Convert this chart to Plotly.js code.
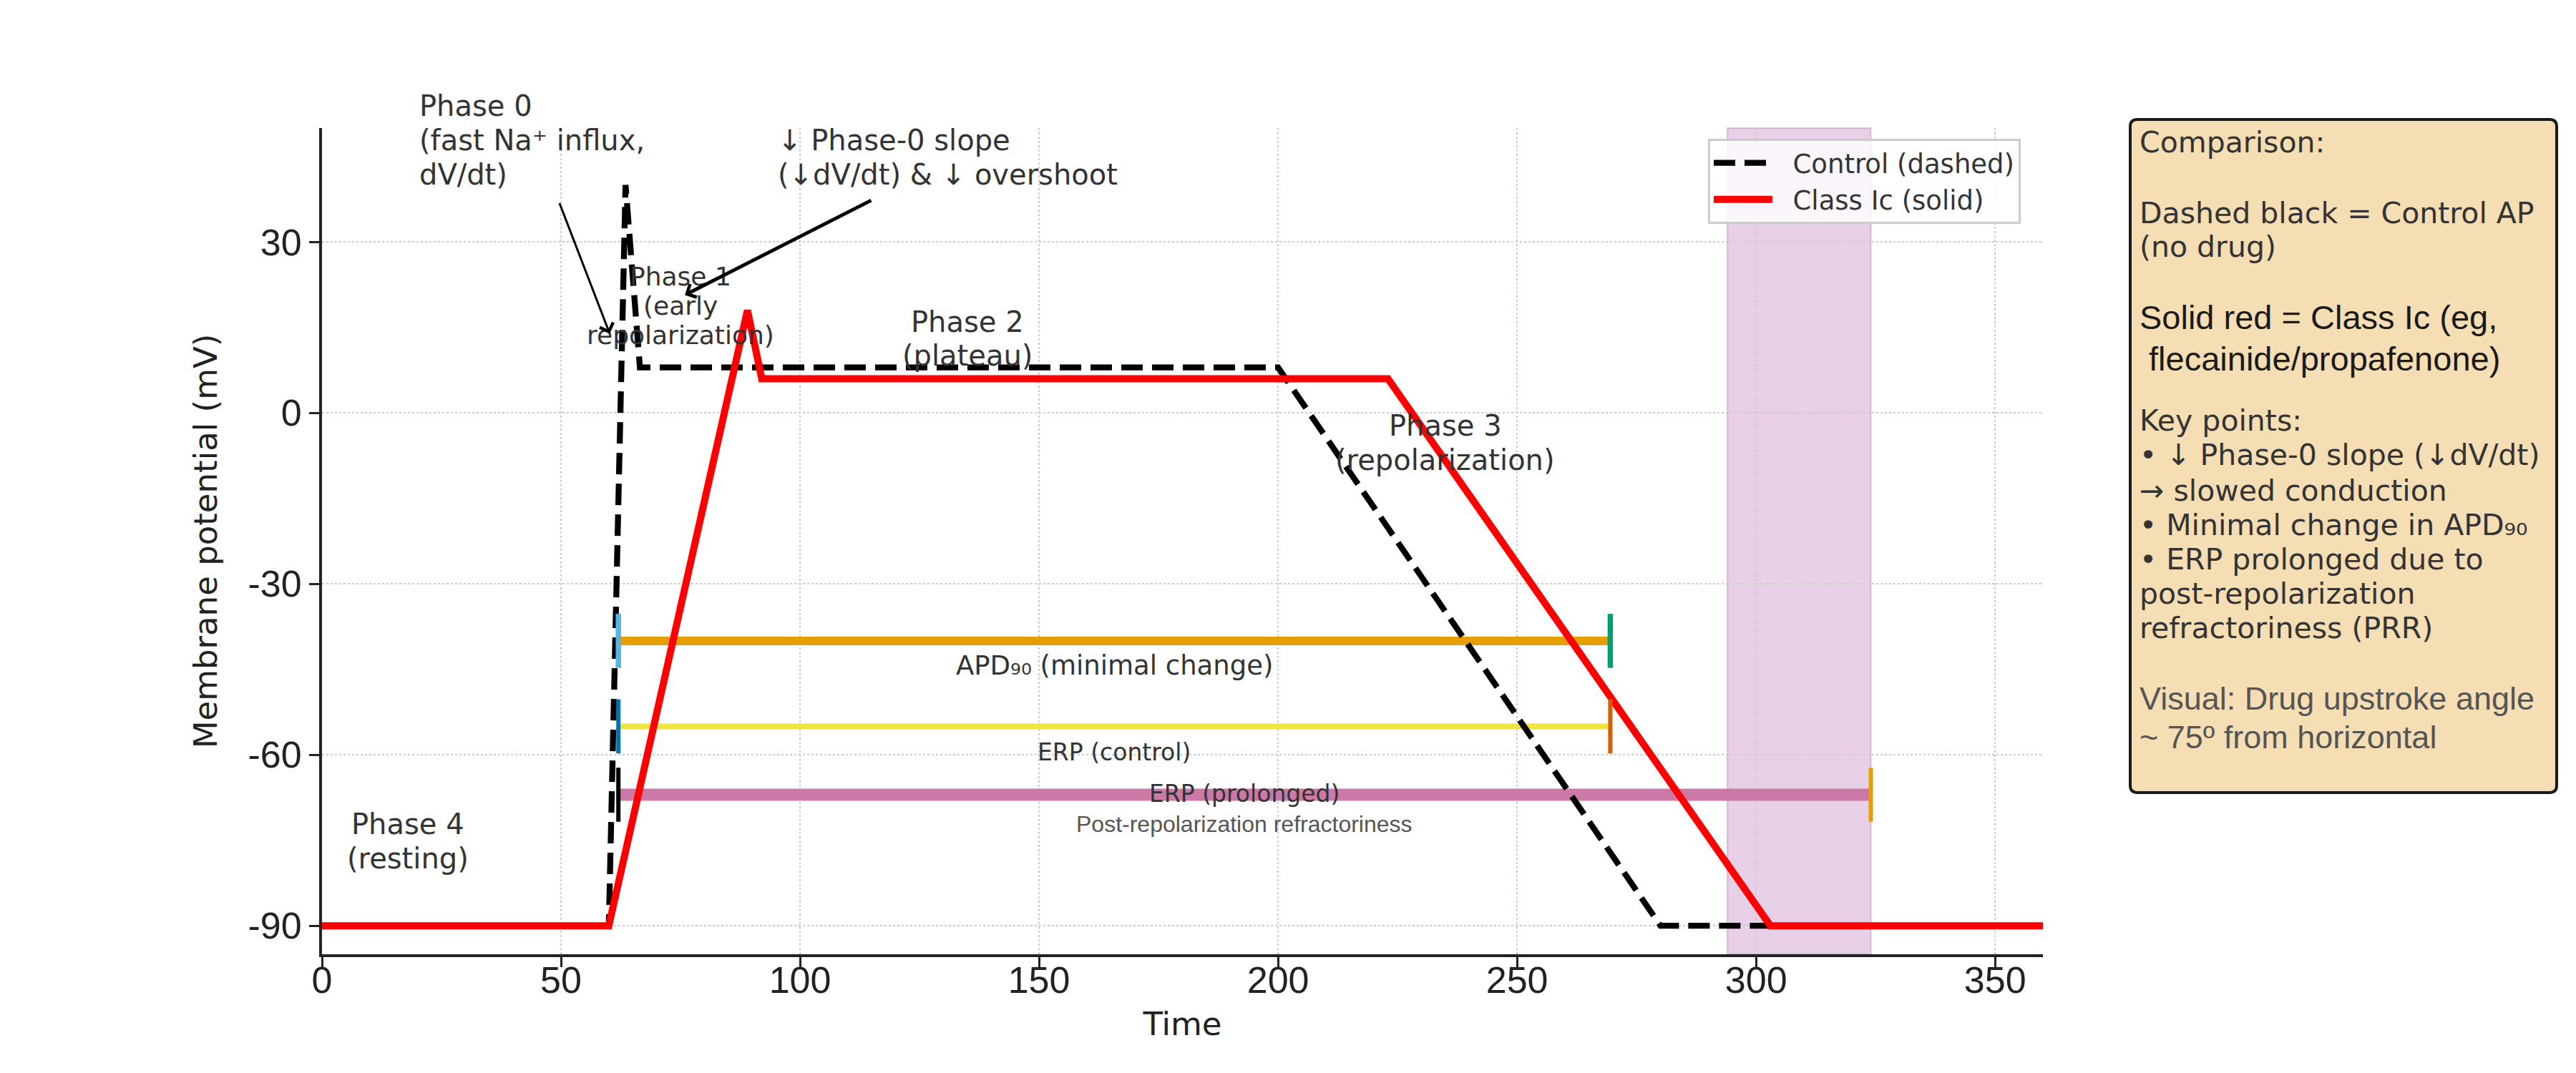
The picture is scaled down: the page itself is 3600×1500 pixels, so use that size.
<!DOCTYPE html>
<html>
<head>
<meta charset="utf-8">
<script src="https://cdn.plot.ly/plotly-3.0.1.min.js"></script>
<style>
  html, body { margin: 0; padding: 0; background: #ffffff; }
  #chart { width: 3600px; height: 1500px; }
</style>
</head>
<body>
<div id="chart"></div>
<script>
// Ventricular action potential: control vs Class Ic drug
const timeControl = [0, 60, 63.5, 66.5, 200, 280, 360];
const vmControl   = [-90, -90, 40, 8, 8, -90, -90];
const timeClassIc = [0, 60, 89, 92, 223, 303, 360];
const vmClassIc   = [-90, -90, 18, 6, 6, -90, -90];

// Interval bars: start / end time (ms) and the potential level they sit at (mV)
const intervalLabels = ['APD₉₀ (minimal change)', 'ERP (control)', 'ERP (prolonged)'];
const intervalStart  = [62, 62, 62];
const intervalEnd    = [269.5, 269.5, 324];
const intervalLevel  = [-40, -55, -67];

// Post-repolarization refractoriness window (ms)
const prrWindow = [294, 324];

// Axis ticks (plain hyphen minus in the labels)
const xTicks = [0, 50, 100, 150, 200, 250, 300, 350];
const yTicks = [-90, -60, -30, 0, 30];
const xTickText = xTicks.map(String);
const yTickText = yTicks.map(String);

// ---- styling ----
const DEJAVU = 'DejaVu Sans';
const ARIAL = 'Liberation Sans, Arial, sans-serif';
const TEXT = '#333333';
const INK = '#222222';
const LEGEND_PAD = '\u00a0\u00a0';   // extra gap between legend sample and label

const barColors = ['#E69F00', '#F0E442', '#CC79A7'];
const barWidths = [12, 8, 17];
const capLeftColors = ['#56B4E9', '#0072B2', '#000000'];
const capRightColors = ['#009E73', '#D55E00', '#E69F00'];

// plot area in page pixels
const M = { l: 450, r: 745, t: 179, b: 166 };
const W = 3600, H = 1500;
const PW = W - M.l - M.r, PH = H - M.t - M.b;
const px2x = p => (p - M.l) / PW;
const py2y = p => (H - M.b - p) / PH;

const traces = [];

// interval bars
intervalLabels.forEach((name, i) => {
  traces.push({
    type: 'scatter', mode: 'lines', name: name, showlegend: false, hoverinfo: 'skip',
    x: [intervalStart[i], intervalEnd[i]],
    y: [intervalLevel[i], intervalLevel[i]],
    line: { color: barColors[i], width: barWidths[i] }
  });
});

// action potentials
traces.push({
  type: 'scatter', mode: 'lines', name: LEGEND_PAD + 'Control (dashed)',
  x: timeControl, y: vmControl,
  line: { color: '#000000', width: 8.3, dash: '30px,13px' }
});
traces.push({
  type: 'scatter', mode: 'lines', name: LEGEND_PAD + 'Class Ic (solid)',
  x: timeClassIc, y: vmClassIc,
  line: { color: '#ff0000', width: 10 }
});

// end caps of the interval bars
intervalLabels.forEach((name, i) => {
  [[intervalStart[i], capLeftColors[i]], [intervalEnd[i], capRightColors[i]]].forEach(([t, c]) => {
    traces.push({
      type: 'scatter', mode: 'markers', showlegend: false, hoverinfo: 'skip',
      x: [t], y: [intervalLevel[i]],
      marker: { symbol: 'line-ns', size: 54, color: c, line: { color: c, width: i === 0 ? 7.5 : 6 } }
    });
  });
});

// ---- annotations ----
const annotations = [];

function textBlock(lines, x, y, anchor, size, gap, family, color) {
  const n = lines.length;
  lines.forEach((s, i) => {
    annotations.push({
      xref: 'x', yref: 'y', x: x, y: y, text: s, showarrow: false,
      xanchor: anchor, yanchor: 'middle', align: anchor,
      yshift: ((n - 1) / 2 - i) * gap,
      font: { family: family || DEJAVU, size: size, color: color || TEXT }
    });
  });
}

textBlock(['Phase 0', '(fast Na⁺ influx,', 'dV/dt)'], 20, 47.9, 'left', 40, 48);
textBlock(['↓ Phase-0 slope', '(↓dV/dt) & ↓ overshoot'], 95, 44.9, 'left', 40, 48);
textBlock(['Phase 1', '(early', 'repolarization)'], 75, 18.8, 'center', 36, 41);
textBlock(['Phase 2', '(plateau)'], 135, 13, 'center', 40, 47);
textBlock(['Phase 3', '(repolarization)'], 235, -5.2, 'center', 40, 48);
textBlock(['Phase 4', '(resting)'], 18, -75.2, 'center', 40, 48);

// interval labels, centred on their bars
const labelOffsets = [-4.3, -4.5, 0.2];
const labelSizes = [37, 33, 33];
intervalLabels.forEach((name, i) => {
  textBlock([name], (intervalStart[i] + intervalEnd[i]) / 2, intervalLevel[i] + labelOffsets[i],
            'center', labelSizes[i], 0);
});
textBlock(['Post-repolarization refractoriness'], (intervalStart[2] + intervalEnd[2]) / 2,
          intervalLevel[2] - 5.1, 'center', 32, 0, ARIAL, '#555555');

// pointer arrows
const arrows = [
  { tail: [49.6, 37.0], head: [60.2, 13.9], width: 3, size: 1.3 },
  { tail: [115.1, 37.4], head: [75.9, 20.7], width: 5, size: 0.8 }
];
arrows.forEach(a => {
  annotations.push({
    xref: 'x', yref: 'y', axref: 'x', ayref: 'y',
    x: a.head[0], y: a.head[1], ax: a.tail[0], ay: a.tail[1],
    text: '', showarrow: true, arrowhead: 4, arrowwidth: a.width, arrowsize: a.size,
    arrowcolor: '#000000', standoff: 0, startstandoff: 0
  });
});

// ---- side note box (page-pixel layout) ----
const box = { x0: 2977, y0: 167, x1: 3573, y1: 1108, r: 10 };
function roundRectPath(b) {
  const P = (x, y) => px2x(x).toFixed(5) + ',' + py2y(y).toFixed(5);
  const { x0, y0, x1, y1, r } = b;
  return 'M' + P(x0 + r, y0) + ' L' + P(x1 - r, y0) + ' Q' + P(x1, y0) + ' ' + P(x1, y0 + r) +
         ' L' + P(x1, y1 - r) + ' Q' + P(x1, y1) + ' ' + P(x1 - r, y1) +
         ' L' + P(x0 + r, y1) + ' Q' + P(x0, y1) + ' ' + P(x0, y1 - r) +
         ' L' + P(x0, y0 + r) + ' Q' + P(x0, y0) + ' ' + P(x0 + r, y0) + ' Z';
}

const noteLines = [
  { t: 'Comparison:', base: 212.7, f: DEJAVU, s: 41, c: TEXT },
  { t: 'Dashed black = Control AP', base: 311.7, f: DEJAVU, s: 41, c: TEXT },
  { t: '(no drug)', base: 359.5, f: DEJAVU, s: 41, c: TEXT },
  { t: 'Solid red = Class Ic (eg,', base: 460, f: ARIAL, s: 47, c: '#1a1a1a' },
  { t: '\u00a0flecainide/propafenone)', base: 518, f: ARIAL, s: 47, c: '#1a1a1a' },
  { t: 'Key points:', base: 601.7, f: DEJAVU, s: 41, c: TEXT },
  { t: '• ↓ Phase-0 slope (↓dV/dt)', base: 650, f: DEJAVU, s: 41, c: TEXT },
  { t: '→ slowed conduction', base: 700, f: DEJAVU, s: 41, c: TEXT },
  { t: '• Minimal change in APD₉₀', base: 748, f: DEJAVU, s: 41, c: TEXT },
  { t: '• ERP prolonged due to', base: 796, f: DEJAVU, s: 41, c: TEXT },
  { t: 'post-repolarization', base: 844, f: DEJAVU, s: 41, c: TEXT },
  { t: 'refractoriness (PRR)', base: 892, f: DEJAVU, s: 41, c: TEXT },
  { t: 'Visual: Drug upstroke angle', base: 991.7, f: ARIAL, s: 45, c: '#555555' },
  { t: '~ 75º from horizontal', base: 1046, f: ARIAL, s: 45, c: '#555555' }
];
noteLines.forEach(l => {
  annotations.push({
    xref: 'paper', yref: 'paper', x: px2x(2988), y: py2y(l.base - 0.346 * l.s),
    xanchor: 'left', yanchor: 'middle', align: 'left', showarrow: false,
    text: l.t, font: { family: l.f, size: l.s, color: l.c }
  });
});

const shapes = [
  {
    type: 'rect', xref: 'x', yref: 'paper', x0: prrWindow[0], x1: prrWindow[1], y0: 0, y1: 1,
    fillcolor: 'rgba(128,0,128,0.18)', line: { color: 'rgba(128,0,128,0.18)', width: 2.5 },
    layer: 'between'
  },
  {
    type: 'path', xref: 'paper', yref: 'paper', path: roundRectPath(box),
    fillcolor: '#F5DEB3', line: { color: '#1a1a1a', width: 4 }, layer: 'above'
  }
];

const axisCommon = {
  showgrid: true, gridcolor: '#cccccc', gridwidth: 2, griddash: 'dot',
  zeroline: false, showline: true, linecolor: INK, linewidth: 4, mirror: false,
  ticks: 'outside', ticklen: 14, tickwidth: 3, tickcolor: INK,
  tickfont: { family: ARIAL, size: 52, color: INK },
  automargin: false, fixedrange: true
};

const layout = {
  width: W, height: H,
  margin: M,
  paper_bgcolor: '#ffffff', plot_bgcolor: '#ffffff',
  font: { family: DEJAVU, color: TEXT },
  xaxis: Object.assign({}, axisCommon, {
    range: [0, 360], tickmode: 'array', tickvals: xTicks, ticktext: xTickText,
    ticklabelstandoff: -26,
    title: { text: 'Time', font: { family: DEJAVU, size: 45, color: INK }, standoff: 18 }
  }),
  yaxis: Object.assign({}, axisCommon, {
    range: [-95, 50], tickmode: 'array', tickvals: yTicks, ticktext: yTickText,
    title: { text: 'Membrane potential (mV)', font: { family: DEJAVU, size: 45, color: INK }, standoff: 30 }
  }),
  showlegend: true,
  legend: {
    x: px2x(2387), y: py2y(194), xanchor: 'left', yanchor: 'top',
    bgcolor: 'rgba(255,255,255,0.8)', bordercolor: '#cccccc', borderwidth: 3,
    font: { family: DEJAVU, size: 37, color: TEXT }, itemwidth: 82
  },
  shapes: shapes,
  annotations: annotations
};

Plotly.newPlot('chart', traces, layout, { displayModeBar: false, staticPlot: true });
</script>
</body>
</html>
